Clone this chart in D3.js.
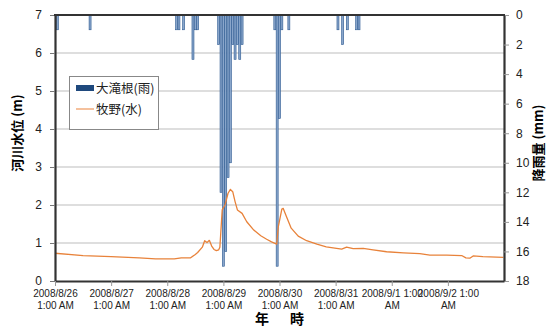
<!DOCTYPE html>
<html>
<head>
<meta charset="utf-8">
<script src="https://cdn.jsdelivr.net/npm/d3@7"></script>
<style>
  body { margin: 0; background: #fff; }
  svg { display: block; font-family: "Liberation Sans", Arial, sans-serif; }
</style>
</head>
<body>
<div id="chart"></div>
<script>
// hours since 2008/8/26 1:00 AM
const levelHours = [0, 12, 24, 36, 43, 51, 54, 58, 60, 61, 63, 64, 65, 66, 67, 68, 69, 70, 70.5, 71.5, 72.7,
  74, 75, 76, 77, 78, 80, 82, 85, 88, 90.5, 92.6, 94.8, 95.5, 97, 97.6, 99, 101, 104, 107.6, 112, 116,
  120.4, 122.6, 124.7, 127.5, 131.8, 136, 141.8, 149, 156, 160.3, 167.5, 173.9, 175.7, 177.4, 178.8, 183, 191.7];
const levelM = [0.73, 0.67, 0.64, 0.61, 0.58, 0.58, 0.61, 0.61, 0.70, 0.75, 0.89, 1.06, 1.01, 1.07, 0.92, 0.83, 0.80, 0.82, 0.89, 1.87, 2.0,
  2.31, 2.41, 2.35, 2.09, 1.87, 1.78, 1.56, 1.34, 1.19, 1.10, 1.03, 0.97, 1.43, 1.89, 1.91, 1.69, 1.39, 1.18, 1.06, 0.97, 0.90,
  0.86, 0.84, 0.89, 0.85, 0.86, 0.82, 0.77, 0.74, 0.72, 0.68, 0.68, 0.67, 0.61, 0.60, 0.66, 0.64, 0.62];

const rainHours = [0, 1, 15, 52, 53, 55, 59, 60, 61, 70, 71, 72, 73, 74, 75, 76, 77, 78, 79, 80, 94, 95, 96, 97, 100, 121, 123, 125, 129, 130];
const rainMm    = [1, 1, 1, 1, 1, 1, 3, 1, 1, 2, 12, 17, 16, 11, 10, 2, 3, 2, 3, 2, 1, 17, 7, 1, 1, 1, 2, 1, 1, 1];

const dayTicks = [0, 24, 48, 72, 96, 120, 144, 168];
const tickLine1 = ["2008/8/26", "2008/8/27", "2008/8/28", "2008/8/29", "2008/8/30", "2008/8/31", "2008/9/1 1:00", "2008/9/2 1:00"];
const tickLine2 = ["1:00 AM", "1:00 AM", "1:00 AM", "1:00 AM", "1:00 AM", "1:00 AM", "AM", "AM"];
const levelTicks = [0, 1, 2, 3, 4, 5, 6, 7];
const rainTicks = [0, 2, 4, 6, 8, 10, 12, 14, 16, 18];

const W = 552, H = 327;
const L = 55, R = 504, T = 15, B = 281;
const cjk = '"Noto Sans CJK JP", "Noto Sans", sans-serif';

const svg = d3.select('#chart').append('svg').attr('width', W).attr('height', H);

const x = d3.scaleLinear().domain([0, 192]).range([L, R]);
const yL = d3.scaleLinear().domain([0, 7]).range([B, T]);
const yR = d3.scaleLinear().domain([0, 18]).range([T, B]);

svg.append('clipPath').attr('id', 'plot')
  .append('rect').attr('x', L).attr('y', T).attr('width', R - L).attr('height', B - T);

// Grid
svg.append('g').selectAll('line')
  .data(levelTicks.slice(1, -1))
  .join('line')
  .attr('x1', L).attr('x2', R)
  .attr('y1', d => yL(d)).attr('y2', d => yL(d))
  .attr('stroke', '#bdbdbd').attr('stroke-width', 1);

// Rain bars
svg.append('g').attr('clip-path', 'url(#plot)')
  .selectAll('rect')
  .data(rainHours.map((h, i) => ({ h, v: rainMm[i] })))
  .join('rect')
  .attr('x', d => x(d.h) - 1)
  .attr('width', 2)
  .attr('y', T)
  .attr('height', d => yR(d.v) - T)
  .attr('fill', '#8aa6cb')
  .attr('stroke', '#2a5890')
  .attr('stroke-width', 0.6);

// Water level line
const line = d3.line().x(d => x(d[0])).y(d => yL(d[1]));
svg.append('path')
  .datum(levelHours.map((h, i) => [h, levelM[i]]))
  .attr('d', line)
  .attr('fill', 'none')
  .attr('stroke', '#e8823a')
  .attr('stroke-width', 1.3)
  .attr('stroke-linejoin', 'round');

// Left axis
const gL = svg.append('g').attr('transform', `translate(${L},0)`)
  .call(d3.axisLeft(yL).tickValues(levelTicks).tickFormat(d3.format('d')).tickSize(5).tickSizeOuter(0).tickPadding(8));
gL.selectAll('text').style('font-size', '12px').attr('fill', '#222');
gL.selectAll('.tick line').attr('stroke', '#777');

// Right axis
const gR = svg.append('g').attr('transform', `translate(${R},0)`)
  .call(d3.axisRight(yR).tickValues(rainTicks).tickSize(5).tickSizeOuter(0).tickPadding(7));
gR.selectAll('text').style('font-size', '12px').attr('fill', '#222');
gR.selectAll('.tick line').attr('stroke', '#999');

// Bottom axis
const gB = svg.append('g').attr('transform', `translate(0,${B})`)
  .call(d3.axisBottom(x).tickValues(dayTicks).tickSize(5).tickSizeOuter(0).tickFormat(''));
gB.selectAll('.tick line').attr('stroke', '#999');
gB.selectAll('.tick').append('text')
  .attr('text-anchor', 'middle').attr('fill', '#222')
  .style('font-size', '10px')
  .each(function (d, i) {
    const t = d3.select(this);
    t.append('tspan').attr('x', 0).attr('y', 16).text(tickLine1[i]);
    t.append('tspan').attr('x', 0).attr('y', 27.5).text(tickLine2[i]);
  });

[gL, gR, gB].forEach(g => g.select('.domain').attr('stroke', '#333').attr('stroke-width', 2.2));

// top border
svg.append('line').attr('x1', L - 1).attr('x2', R + 1).attr('y1', T).attr('y2', T)
  .attr('stroke', '#333').attr('stroke-width', 2.2);

// Axis titles
svg.append('text')
  .attr('transform', 'translate(22,133) rotate(-90)')
  .attr('text-anchor', 'middle')
  .style('font-family', cjk).style('font-size', '13px').style('font-weight', 'bold')
  .text('河川水位 (m)');
svg.append('text')
  .attr('transform', 'translate(543,143) rotate(-90)')
  .attr('text-anchor', 'middle')
  .style('font-family', cjk).style('font-size', '13px').style('font-weight', 'bold')
  .text('降雨量 (mm)');
svg.append('text')
  .attr('x', 262).attr('y', 324)
  .attr('text-anchor', 'middle')
  .style('font-family', cjk).style('font-size', '14px').style('font-weight', 'bold')
  .text('年');
svg.append('text')
  .attr('x', 297).attr('y', 324)
  .attr('text-anchor', 'middle')
  .style('font-family', cjk).style('font-size', '14px').style('font-weight', 'bold')
  .text('時');

// Legend
const lg = svg.append('g');
lg.append('rect').attr('x', 69.5).attr('y', 76.5).attr('width', 89).attr('height', 53)
  .attr('fill', '#fff').attr('stroke', '#888').attr('stroke-width', 1);
lg.append('rect').attr('x', 76).attr('y', 85).attr('width', 18).attr('height', 6).attr('fill', '#1f497d');
lg.append('line').attr('x1', 76).attr('x2', 94).attr('y1', 109).attr('y2', 109)
  .attr('stroke', '#f2ad7c').attr('stroke-width', 1.5);
lg.append('text').attr('x', 96).attr('y', 93).style('font-family', cjk).style('font-size', '12.5px')
  .attr('fill', '#222').text('大滝根(雨)');
lg.append('text').attr('x', 96).attr('y', 114).style('font-family', cjk).style('font-size', '12.5px')
  .attr('fill', '#222').text('牧野(水)');
</script>
</body>
</html>
